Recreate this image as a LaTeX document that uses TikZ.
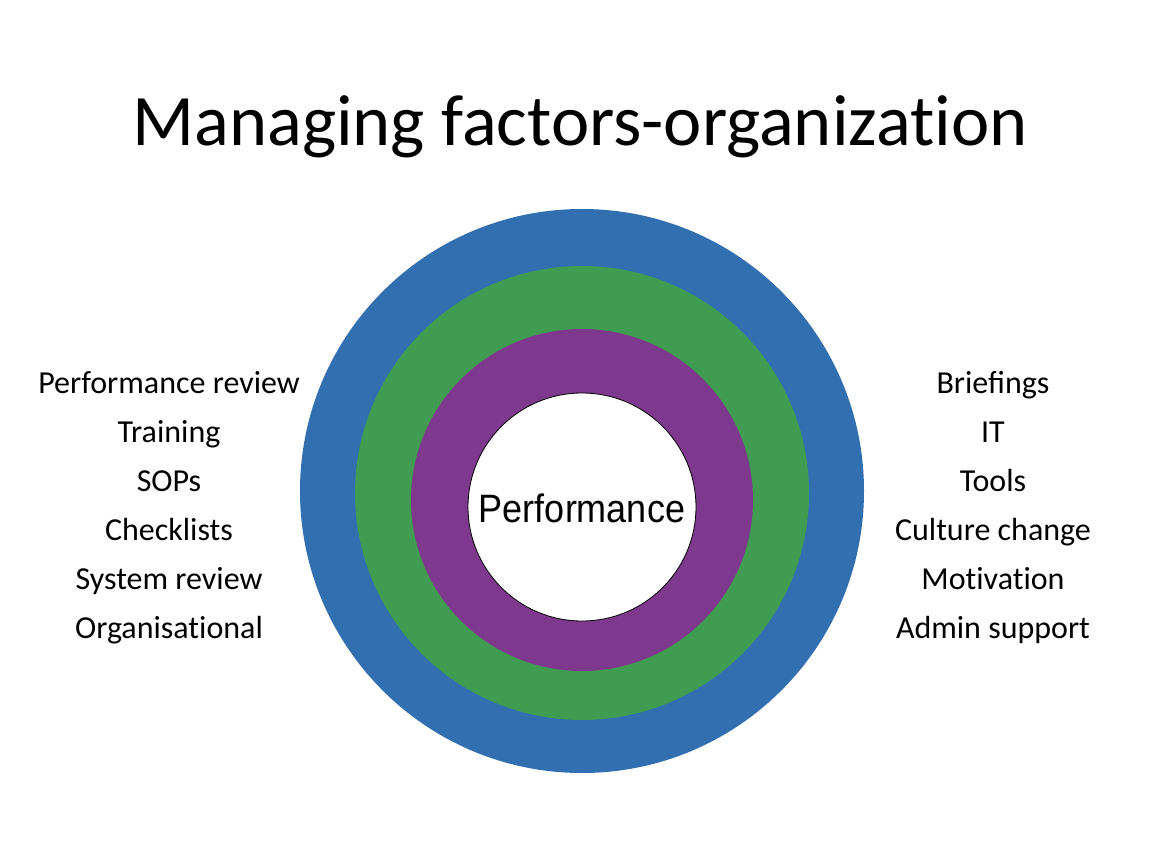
\documentclass[tikz,border=0pt]{standalone}
\usepackage{fontspec}
\usepackage{graphicx}
\setmainfont{Carlito}[Ligatures=CommonOff]
\newfontfamily\perffont{Liberation Sans}
\usepackage{tikz}
\usetikzlibrary{positioning}

\definecolor{ringblue}{RGB}{50,111,177}
\definecolor{ringgreen}{RGB}{63,156,81}
\definecolor{ringpurple}{RGB}{126,57,142}

\tikzset{
  ring/.style={circle, inner sep=0pt},
  item/.style={anchor=base, inner sep=0pt, font=\fontsize{32}{38}\selectfont}
}

\begin{document}
\begin{tikzpicture}[x=1pt, y=-1pt]
            \useasboundingbox (0,0) rectangle (1152,864);
            \node[anchor=base, inner sep=0pt, font=\fontsize{72.5}{86}\selectfont] (title) at (580, 146) {Managing factors-organization};
            \node[ring, fill=ringblue, minimum size=564pt] (outer) at (582, 491) {};
            \node[ring, fill=ringgreen, minimum size=454pt] (middle) at (582, 493) {};
            \node[ring, fill=ringpurple, minimum size=342pt] (inner) at (582, 500) {};
            \node[ring, fill=white, draw=black, line width=0.8pt, minimum size=228pt] (core) at (582, 507) {};
            \node[anchor=base, inner sep=0pt, font=\perffont\fontsize{36}{44}\selectfont] (perf) at (582, 522) {\scalebox{1}[1.1]{Performance}};
            \foreach \txt [count=\i] in {Performance review, Training, SOPs, Checklists, System review, Organisational}
                \node[item] (left\i) at (169, 344+49*\i) {\txt};
            \foreach \txt [count=\i] in {Brieﬁngs, IT, Tools, Culture change, Motivation, Admin support}
                \node[item] (right\i) at (993, 344+49*\i) {\txt};
        \end{tikzpicture}
\end{document}
